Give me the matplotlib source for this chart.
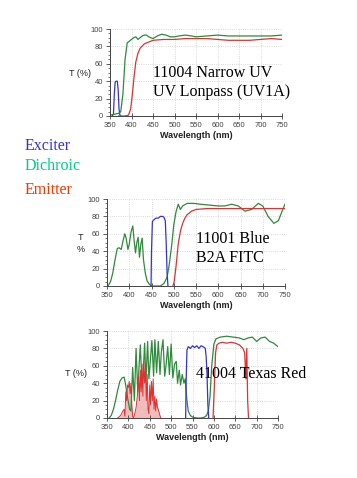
import numpy as np
import matplotlib.pyplot as plt
from matplotlib.ticker import MultipleLocator

# ---- panel 1: 11004 Narrow UV ----
p1_ex_x = [355, 358, 360, 362, 364, 367, 369, 371, 373, 375]
p1_ex_y = [0, 2, 25, 39, 40, 40, 30, 8, 1, 0]
p1_di_x = [350, 360, 370, 375, 380, 385, 390, 395, 400, 405, 410, 415, 420, 425, 430, 435,
           440, 450, 460, 470, 480, 490, 500, 510, 525, 540, 550, 575, 600, 625, 650, 700, 725, 750]
p1_di_y = [1, 2, 3, 5, 25, 65, 84, 86, 88, 90, 91, 88, 90, 92, 93, 93,
           91, 89, 92, 94, 93, 91, 91, 92, 93, 92, 91, 92, 93, 92, 92, 92, 92, 93]
p1_em_x = [370, 385, 393, 398, 402, 406, 410, 415, 420, 430, 440, 450, 475, 500, 525,
           550, 575, 600, 625, 650, 675, 700, 725, 750]
p1_em_y = [0, 0, 1, 8, 25, 45, 62, 72, 78, 83, 85, 87, 88, 88, 89,
           89, 89, 88, 87, 87, 87, 88, 89, 88]

# ---- panel 2: 11001 Blue ----
p2_ex_x = [449, 450, 452, 455, 460, 465, 470, 475, 478, 481, 483, 485, 487]
p2_ex_y = [0, 40, 74, 76, 78, 78, 80, 80, 79, 75, 50, 15, 0]
p2_di_x = [352, 358, 363, 368, 373, 377, 382, 386, 390, 393, 397, 400, 404, 408, 411, 414,
           417, 420, 423, 426, 429, 432, 436, 440, 445, 450, 460, 470, 478, 485, 490, 495,
           500, 505, 510, 515, 520, 530, 545, 560, 580, 600, 615, 630, 645, 660, 675, 690,
           700, 712, 725, 735, 745, 750]
p2_di_y = [0, 5, 15, 30, 43, 44, 42, 52, 60, 55, 42, 48, 62, 69, 52, 38,
           50, 56, 33, 48, 55, 30, 15, 6, 2, 0, 0, 0, 3, 10, 25, 45,
           70, 85, 94, 88, 92, 95, 95, 94, 93, 92, 92, 94, 92, 86, 88, 95,
           92, 80, 72, 75, 88, 94]
p2_em_x = [498, 501, 505, 510, 515, 520, 525, 530, 540, 550, 575, 600, 650, 700, 750]
p2_em_y = [0, 5, 22, 48, 63, 72, 78, 82, 86, 88, 89, 89, 89, 89, 89]

# ---- panel 3: 41004 Texas Red ----
p3_ex_x = [534, 535, 537, 540, 545, 550, 555, 560, 565, 570, 575, 580, 582, 584, 586, 588]
p3_ex_y = [0, 40, 78, 82, 80, 83, 81, 83, 80, 83, 82, 80, 70, 50, 15, 0]
p3_di_x = [355, 360, 365, 370, 375, 380, 385, 390, 393, 396, 400, 403, 406, 410, 414, 418,
           422, 425, 428, 432, 435, 438, 441, 445, 448, 452, 455, 459, 462, 466, 470, 474,
           477, 481, 485, 488, 492, 496, 500, 504, 508, 512, 515, 519, 522, 526, 530, 533,
           537, 540, 545, 550, 560, 570, 578, 583, 587, 591, 595, 600, 605, 615, 630, 645,
           660, 670, 680, 690, 700, 710, 720, 730, 740, 750]
p3_di_y = [0, 3, 10, 20, 32, 42, 46, 47, 40, 30, 18, 10, 8, 58, 20, 80,
           30, 60, 84, 35, 55, 86, 42, 88, 45, 70, 89, 48, 90, 52, 88, 50,
           75, 90, 48, 60, 82, 50, 85, 46, 62, 65, 40, 55, 38, 50, 40, 45,
           20, 8, 3, 1, 0, 0, 1, 3, 8, 25, 60, 85, 91, 93, 94, 93,
           92, 90, 92, 93, 88, 92, 93, 88, 86, 82]
p3_em_x = [375, 382, 387, 390, 392, 394, 396, 398, 400, 402, 404, 406, 408, 410, 412, 415,
           418, 421, 424, 426, 428, 430, 432, 434, 436, 438, 440, 442, 444, 446, 448, 450,
           452, 454, 456, 458, 460, 462, 464, 466, 468, 470, 473, 476,
           598, 601, 604, 607, 612, 620, 630, 640, 650, 660, 668, 672, 675, 677, 679, 681]
p3_em_y = [0, 3, 8, 10, 2, 30, 20, 38, 35, 42, 28, 40, 15, 2, 0, 5,
           12, 25, 48, 20, 55, 30, 62, 25, 65, 40, 58, 20, 50, 10, 5, 38,
           15, 42, 20, 45, 10, 25, 8, 22, 12, 10, 4, 0,
           0, 35, 75, 84, 86, 87, 86, 87, 86, 84, 80, 75, 45, 80, 20, 0]

c_blue = '#3333dd'
c_green = '#2e8b3a'
c_red = '#dd3333'

fig = plt.figure(figsize=(3.57, 4.78), dpi=100)
W, H = 357, 478
sans = 'Liberation Sans'
serif = 'Liberation Serif'


def make_ax(left, right, top, bottom):
    ax = fig.add_axes([left / W, 1 - bottom / H, (right - left) / W, (bottom - top) / H])
    ax.set_xlim(350, 750)
    ax.set_ylim(0, 100)
    ax.xaxis.set_major_locator(MultipleLocator(50))
    ax.yaxis.set_major_locator(MultipleLocator(20))
    ax.yaxis.set_minor_locator(MultipleLocator(5))
    ax.grid(True, color='#cccccc', linestyle=':', linewidth=0.6)
    for s in ['top', 'right']:
        ax.spines[s].set_visible(False)
    for s in ['left', 'bottom']:
        ax.spines[s].set_color('#444444')
        ax.spines[s].set_linewidth(0.7)
    ax.tick_params(axis='x', direction='inout', length=4, width=0.6, labelsize=5.5,
                   colors='#444444', pad=2)
    ax.tick_params(axis='y', which='major', length=3, width=0.6, labelsize=5.5,
                   colors='#444444', pad=2)
    ax.tick_params(axis='y', which='minor', length=1.5, width=0.5, colors='#444444')
    for lab in ax.get_xticklabels() + ax.get_yticklabels():
        lab.set_family(sans)
    ax.set_xlabel('Wavelength (nm)', fontsize=6.5, fontweight='bold', family=sans,
                  color='#222222', labelpad=2)
    return ax


lw = 0.9

ax1 = make_ax(110, 282, 29, 116)
ax1.plot(p1_ex_x, p1_ex_y, color=c_blue, lw=lw)
ax1.plot(p1_di_x, p1_di_y, color=c_green, lw=lw)
ax1.plot(p1_em_x, p1_em_y, color=c_red, lw=lw)
fig.text(80 / W, 1 - 73 / H, 'T (%)', fontsize=6.5, family=sans, color='#222222',
         ha='center', va='center')
fig.text(153 / W, 1 - 73 / H, '11004 Narrow UV', fontsize=11.5, family=serif,
         va='center', ha='left')
fig.text(153 / W, 1 - 92 / H, 'UV Lonpass (UV1A)', fontsize=11.5, family=serif,
         va='center', ha='left')

ax2 = make_ax(107, 285, 199, 286)
ax2.plot(p2_di_x, p2_di_y, color=c_green, lw=lw)
ax2.plot(p2_ex_x, p2_ex_y, color=c_blue, lw=lw)
ax2.plot(p2_em_x, p2_em_y, color=c_red, lw=lw)
fig.text(81 / W, 1 - 238 / H, 'T', fontsize=6.5, family=sans, color='#222222',
         ha='center', va='center')
fig.text(81 / W, 1 - 249 / H, '%', fontsize=6.5, family=sans, color='#222222',
         ha='center', va='center')
fig.text(196 / W, 1 - 239 / H, '11001 Blue', fontsize=11.5, family=serif,
         va='center', ha='left')
fig.text(196 / W, 1 - 258 / H, 'B2A FITC', fontsize=11.5, family=serif,
         va='center', ha='left')

ax3 = make_ax(107, 278, 331, 418)
ax3.plot(p3_di_x, p3_di_y, color=c_green, lw=lw)
ax3.fill_between(p3_em_x[:44], p3_em_y[:44], color='#e89090', alpha=0.6, lw=0)
ax3.plot(p3_em_x[:44], p3_em_y[:44], color=c_red, lw=0.7)
ax3.plot(p3_em_x[44:], p3_em_y[44:], color=c_red, lw=lw)
ax3.plot(p3_ex_x, p3_ex_y, color=c_blue, lw=lw)
fig.text(76 / W, 1 - 374 / H, 'T (%)', fontsize=6.5, family=sans, color='#222222',
         ha='center', va='center')
fig.text(196 / W, 1 - 374 / H, '41004 Texas Red', fontsize=11.5, family=serif,
         va='center', ha='left')

fig.text(25 / W, 1 - 146 / H, 'Exciter', color='#3333dd', fontsize=11.5,
         family=serif, va='center', ha='left')
fig.text(25 / W, 1 - 166 / H, 'Dichroic', color='#00cc88', fontsize=11.5,
         family=serif, va='center', ha='left')
fig.text(25 / W, 1 - 190 / H, 'Emitter', color='#ff3300', fontsize=11.5,
         family=serif, va='center', ha='left')

fig.savefig('out.png', dpi=100)
